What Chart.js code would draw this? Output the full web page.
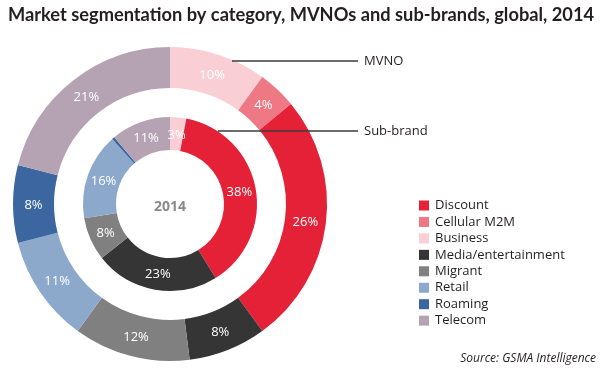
<!DOCTYPE html>
<html>
<head>
<meta charset="utf-8">
<script src="https://cdn.jsdelivr.net/npm/chart.js@4/dist/chart.umd.min.js"></script>
<style>
html,body{margin:0;padding:0;background:#fff;}
#wrap{position:relative;width:610px;height:370px;}
</style>
</head>
<body>
<div id="wrap"><canvas id="c" width="610" height="370"></canvas></div>
<script>
const chartTitle = 'Market segmentation by category, MVNOs and sub-brands, global, 2014';
const categories = ['Business','Cellular M2M','Discount','Media/entertainment','Migrant','Retail','Roaming','Telecom'];
const mvnoValues = [10, 4, 26, 8, 12, 11, 8, 21];
const subBrandValues = [3, 0, 38, 23, 8, 16, 0.5, 11];
const categoryColors = ['#F9CED5','#EE7984','#E42136','#353535','#808080','#8CA9CC','#3B66A0','#B5A3B3'];
const legendOrder = ['Discount','Cellular M2M','Business','Media/entertainment','Migrant','Retail','Roaming','Telecom'];
const ringNames = ['MVNO','Sub-brand'];
const centerLabel = '2014';
const sourceText = 'Source: GSMA Intelligence';

const TXT = '#231F20';
const FONT = '"Open Sans", "DejaVu Sans", sans-serif';

const overlay = {
  id: 'overlay',
  afterDatasetsDraw(chart) {
    const ctx = chart.ctx;
    ctx.save();
    // value labels
    [0, 2].forEach(di => {
      const meta = chart.getDatasetMeta(di);
      const vals = chart.data.datasets[di].data;
      meta.data.forEach((arc, i) => {
        if (vals[i] < 2) return;
        const p = arc.getCenterPoint();
        ctx.fillStyle = '#ffffff';
        ctx.font = '13px ' + FONT;
        ctx.textAlign = 'center';
        ctx.textBaseline = 'middle';
        ctx.fillText(vals[i] + '%', p.x, p.y + 1);
      });
    });
    const a0 = chart.getDatasetMeta(0).data[0];
    // center label
    ctx.fillStyle = '#8A8A8A';
    ctx.font = 'bold 14px ' + FONT;
    ctx.textAlign = 'center';
    ctx.textBaseline = 'middle';
    ctx.fillText(centerLabel, a0.x, a0.y + 3);

    // annotation lines
    ctx.strokeStyle = '#3d3d3d';
    ctx.lineWidth = 1.5;
    ctx.beginPath();
    ctx.moveTo(232, 61); ctx.lineTo(358, 61);
    ctx.moveTo(218, 131); ctx.lineTo(358, 131);
    ctx.stroke();
    ctx.fillStyle = TXT;
    ctx.font = '13px ' + FONT;
    ctx.textAlign = 'left';
    ctx.fillText(ringNames[0], 364, 61);
    ctx.fillText(ringNames[1], 364, 131);

    // title
    let fs = 22;
    ctx.font = 'bold ' + fs + 'px ' + '"Liberation Sans Narrow", Lato, ' + FONT;
    while (ctx.measureText(chartTitle).width > 590 && fs > 10) {
      fs -= 0.25;
      ctx.font = 'bold ' + fs + 'px ' + '"Liberation Sans Narrow", Lato, ' + FONT;
    }
    ctx.fillStyle = TXT;
    ctx.textAlign = 'left';
    ctx.textBaseline = 'alphabetic';
    ctx.fillText(chartTitle, 8, 21);

    // legend
    ctx.font = '13px ' + FONT;
    ctx.textBaseline = 'middle';
    legendOrder.forEach((name, k) => {
      const idx = categories.indexOf(name);
      const y = 205.5 + k * 16.45;
      ctx.fillStyle = categoryColors[idx];
      ctx.fillRect(419, y - 5, 10, 10);
      ctx.fillStyle = TXT;
      ctx.fillText(name, 435, y);
    });

    // source
    ctx.font = 'italic 12px ' + FONT;
    ctx.textAlign = 'right';
    ctx.fillStyle = TXT;
    ctx.fillText(sourceText, 596, 359);
    ctx.restore();
  }
};

new Chart(document.getElementById('c'), {
  type: 'doughnut',
  data: {
    labels: categories,
    datasets: [
      { label: ringNames[0], data: mvnoValues, backgroundColor: categoryColors, borderWidth: 0, weight: 41 },
      { label: 'gap', data: [1], backgroundColor: 'rgba(0,0,0,0)', borderWidth: 0, weight: 29 },
      { label: ringNames[1], data: subBrandValues, backgroundColor: categoryColors, borderWidth: 0, weight: 33 }
    ]
  },
  options: {
    responsive: false,
    animation: false,
    events: [],
    cutout: 54,
    hoverOffset: 0,
    layout: { padding: { left: 13, top: 47, right: 283, bottom: 9 } },
    plugins: { legend: { display: false }, tooltip: { enabled: false }, title: { display: false } }
  },
  plugins: [overlay]
});
</script>
</body>
</html>
